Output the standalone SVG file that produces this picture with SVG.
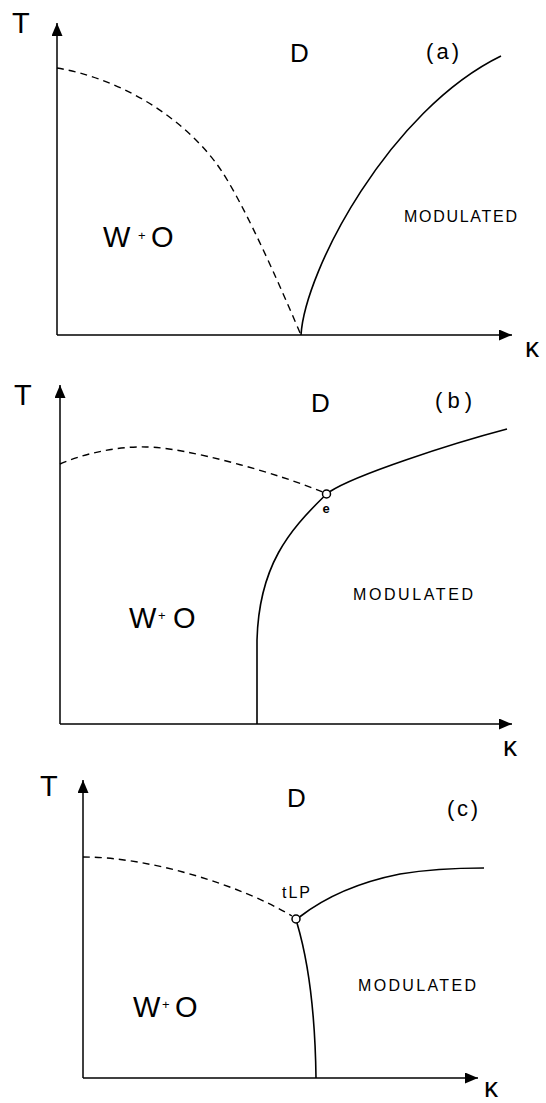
<svg xmlns="http://www.w3.org/2000/svg" width="546" height="1103" viewBox="0 0 546 1103">
<style>
.ax{fill:none;stroke:#000;stroke-width:1.5;marker-end:url(#ah)}
.sol{fill:none;stroke:#000;stroke-width:1.6}
.dash{fill:none;stroke:#000;stroke-width:1.4;stroke-dasharray:7 5}
.pt{fill:#fff;stroke:#000;stroke-width:1.5}
text{font-family:"Liberation Sans",Arial,sans-serif;fill:#000}
.ax-l{font-size:29px}
.reg{font-size:26px}
.pl{font-size:22px}
.wo{font-size:29px}
.pl2{font-size:13px}
.mod{font-size:16px}
.kap{font-size:28px}
.sm{font-size:13px;font-weight:bold}
</style>
<defs>
<marker id="ah" markerUnits="userSpaceOnUse" markerWidth="13" markerHeight="11" refX="13" refY="5.5" orient="auto">
<path d="M0,0 L13,5.5 L0,11 z" fill="#000"/>
</marker>
</defs>
<rect width="546" height="1103" fill="#fff"/>

<g id="panel-a">
<g id="axes-a">
<path class="ax" d="M57,335 V23"/>
<path class="ax" d="M57,335 H512"/>
</g>
<text class="ax-l" x="12" y="33">T</text>
<text class="kap" x="525" y="357">κ</text>
<text class="reg" x="290" y="62">D</text>
<text class="pl" x="426" y="59" textLength="33" lengthAdjust="spacing">(a)</text>
<text class="wo" x="103" y="247">W<tspan class="pl2" x="138" y="240">+</tspan><tspan x="151" y="247">O</tspan></text>
<text class="mod" x="404" y="222" textLength="113" lengthAdjust="spacing">MODULATED</text>
</g>

<g id="panel-b">
<g id="axes-b">
<path class="ax" d="M60,724 V385"/>
<path class="ax" d="M60,724 H512"/>
</g>
<text class="ax-l" x="14" y="405">T</text>
<text class="kap" x="503" y="756">κ</text>
<text class="reg" x="311" y="412">D</text>
<text class="pl" x="435" y="408" textLength="37" lengthAdjust="spacing">(b)</text>
<text class="wo" x="129" y="628">W<tspan class="pl2" x="158" y="620">+</tspan><tspan x="173" y="628">O</tspan></text>
<text class="mod" x="353" y="600" textLength="120" lengthAdjust="spacing">MODULATED</text>
<g id="point-e">
<circle class="pt" cx="326.5" cy="494" r="4"/>
<text class="sm" x="326" y="513" text-anchor="middle">e</text>
</g>
</g>

<g id="panel-c">
<g id="axes-c">
<path class="ax" d="M83,1078 V780"/>
<path class="ax" d="M83,1078 H478"/>
</g>
<text class="ax-l" x="40" y="796">T</text>
<text class="kap" x="484" y="1097">κ</text>
<text class="reg" x="287" y="807">D</text>
<text class="pl" x="447" y="816" textLength="31" lengthAdjust="spacing">(c)</text>
<text class="wo" x="133" y="1017">W<tspan class="pl2" x="162" y="1009">+</tspan><tspan x="175" y="1017">O</tspan></text>
<text class="mod" x="358" y="991" textLength="118" lengthAdjust="spacing">MODULATED</text>
<g id="point-tLP">
<circle class="pt" cx="296" cy="919" r="4"/>
<text x="282" y="898" font-size="16" letter-spacing="2">tLP</text>
</g>
</g>

<g id="connectors">
<path class="dash" d="M57,68 C112,77 176,110 216,163 C244,200 291,312 301,335"/>
<path class="sol" d="M301,335 C305,270 390,110 501,56"/>
<path class="dash" d="M60,464 C80,455 115,446 146,447 C185,447 280,474 322.5,492"/>
<path class="sol" d="M330,491.5 C355,475 450,444 507,429"/>
<path class="sol" d="M323.5,497 C290,530 259,565 257,640 L257,724"/>
<path class="dash" d="M83,857 C150,857 240,885 292,916"/>
<path class="sol" d="M299.5,917 C315,905 345,885 400,874 C430,869 460,868 484,868"/>
<path class="sol" d="M297,923 C305,950 315,1000 316,1078"/>
</g>
</svg>
